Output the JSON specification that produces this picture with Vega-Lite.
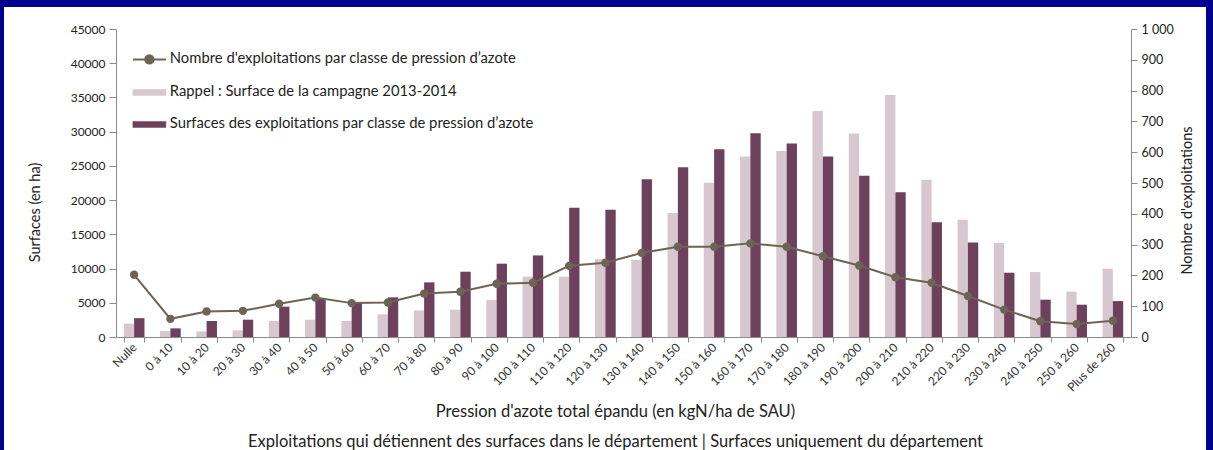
{
  "$schema": "https://vega.github.io/schema/vega-lite/v6.json",
  "autosize": {"type": "none"},
  "width": 1202,
  "height": 443,
  "padding": {"left": 4, "top": 7, "right": 7, "bottom": 0},
  "background": "#000091",
  "config": {
    "view": {"fill": "#ffffff", "stroke": null},
    "font": "Lato",
    "axis": {"grid": false, "domainColor": "#8a8a8a", "tickColor": "#8a8a8a", "labelColor": "#222222", "titleColor": "#222222", "titleFontWeight": "normal"}
  },
  "data": {
    "values": [
      {"classe": "Nulle", "rappel": 1950, "surface": 2750, "nombre": 202},
      {"classe": "0 à 10", "rappel": 880, "surface": 1260, "nombre": 59},
      {"classe": "10 à 20", "rappel": 820, "surface": 2340, "nombre": 83},
      {"classe": "20 à 30", "rappel": 970, "surface": 2530, "nombre": 85},
      {"classe": "30 à 40", "rappel": 2340, "surface": 4430, "nombre": 108},
      {"classe": "40 à 50", "rappel": 2530, "surface": 5600, "nombre": 128},
      {"classe": "50 à 60", "rappel": 2340, "surface": 4970, "nombre": 110},
      {"classe": "60 à 70", "rappel": 3300, "surface": 5790, "nombre": 112},
      {"classe": "70 à 80", "rappel": 3890, "surface": 7980, "nombre": 141},
      {"classe": "80 à 90", "rappel": 3990, "surface": 9540, "nombre": 147},
      {"classe": "90 à 100", "rappel": 5400, "surface": 10710, "nombre": 173},
      {"classe": "100 à 110", "rappel": 8810, "surface": 11920, "nombre": 176},
      {"classe": "110 à 120", "rappel": 8820, "surface": 18900, "nombre": 231},
      {"classe": "120 à 130", "rappel": 11380, "surface": 18585, "nombre": 241},
      {"classe": "130 à 140", "rappel": 11290, "surface": 23060, "nombre": 273},
      {"classe": "140 à 150", "rappel": 18100, "surface": 24810, "nombre": 293},
      {"classe": "150 à 160", "rappel": 22520, "surface": 27440, "nombre": 293},
      {"classe": "160 à 170", "rappel": 26370, "surface": 29770, "nombre": 304},
      {"classe": "170 à 180", "rappel": 27190, "surface": 28270, "nombre": 293},
      {"classe": "180 à 190", "rappel": 33030, "surface": 26370, "nombre": 262},
      {"classe": "190 à 200", "rappel": 29720, "surface": 23550, "nombre": 232},
      {"classe": "200 à 210", "rappel": 35350, "surface": 21160, "nombre": 194},
      {"classe": "210 à 220", "rappel": 22960, "surface": 16780, "nombre": 176},
      {"classe": "220 à 230", "rappel": 17120, "surface": 13820, "nombre": 133},
      {"classe": "230 à 240", "rappel": 13720, "surface": 9390, "nombre": 89},
      {"classe": "240 à 250", "rappel": 9490, "surface": 5450, "nombre": 51},
      {"classe": "250 à 260", "rappel": 6620, "surface": 4720, "nombre": 42},
      {"classe": "Plus de 260", "rappel": 9970, "surface": 5250, "nombre": 53}
    ]
  },
  "layer": [
    {
      "transform": [{"fold": ["rappel", "surface"], "as": ["serie", "valeur"]}],
      "mark": {"type": "bar"},
      "encoding": {
        "x": {
          "field": "classe", "type": "nominal", "sort": null,
          "scale": {"range": [112, 1127], "paddingInner": 0.43, "paddingOuter": 0.215},
          "axis": {
            "orient": "bottom", "offset": -113, "tickBand": "extent", "tickSize": 5,
            "labelAngle": -45, "labelAlign": "right", "labelBaseline": "middle", "labelPadding": 3,
            "labelFontSize": 12, "labelColor": "#333333",
            "title": ["Pression d'azote total épandu (en kgN/ha de SAU)", "Exploitations qui détiennent des surfaces dans le département | Surfaces uniquement du département"],
            "titleFontSize": 16.5, "titleX": 611, "titleY": 79, "titleAlign": "center", "titleBaseline": "alphabetic", "titleLineHeight": 30
          }
        },
        "xOffset": {"field": "serie", "type": "nominal", "sort": ["rappel", "surface"], "scale": {"paddingInner": 0}},
        "y": {
          "field": "valeur", "type": "quantitative",
          "scale": {"domain": [0, 45000], "range": [330, 22], "nice": false},
          "axis": {
            "orient": "left", "offset": -112, "values": [0, 5000, 10000, 15000, 20000, 25000, 30000, 35000, 40000, 45000],
            "format": "d", "tickSize": 7, "labelPadding": 4, "labelFontSize": 12,
            "title": "Surfaces (en ha)", "titleFontSize": 14.5, "titleX": -81, "titleY": 205, "titleAngle": -90, "titleAlign": "center", "titleBaseline": "middle"
          }
        },
        "color": {
          "field": "serie", "type": "nominal",
          "scale": {"domain": ["nombre", "rappel", "surface"], "range": ["#6e6455", "#d7c8d0", "#6d415b"]},
          "legend": {
            "orient": "none", "legendX": 138, "legendY": 45, "title": null, "padding": 0,
            "symbolSize": 400, "rowPadding": 16, "labelOffset": 13, "labelFontSize": 14.8, "labelColor": "#222222",
            "labelLimit": 600,
            "labelExpr": "datum.value === 'nombre' ? 'Nombre d\\'exploitations  par classe de pression d\u2019azote' : datum.value === 'rappel' ? 'Rappel : Surface de la campagne 2013-2014' : 'Surfaces des exploitations par classe de pression d\u2019azote'",
            "encode": {
              "symbols": {
                "update": {
                  "shape": {"signal": "datum.value === 'nombre' ? 'M-1.65,0H1.65M0.42,0A0.42,0.42,0,1,1,-0.42,0A0.42,0.42,0,1,1,0.42,0' : 'M-1.65,-0.3H1.65V0.3H-1.65Z'"},
                  "fill": {"signal": "scale('color', datum.value)"},
                  "stroke": {"signal": "scale('color', datum.value)"},
                  "strokeWidth": {"signal": "datum.value === 'nombre' ? 2 : 0.5"},
                  "opacity": {"value": 1},
                  "fillOpacity": {"value": 1},
                  "strokeOpacity": {"value": 1}
                }
              }
            }
          }
        }
      }
    },
    {
      "encoding": {
        "x": {"field": "classe", "type": "nominal", "sort": null},
        "y": {
          "field": "nombre", "type": "quantitative",
          "scale": {"domain": [0, 1000], "range": [330, 22], "nice": false},
          "axis": {
            "orient": "right", "offset": -75, "values": [0, 100, 200, 300, 400, 500, 600, 700, 800, 900, 1000],
            "labelExpr": "replace(format(datum.value, ','), ',', ' ')",
            "tickSize": 6, "labelPadding": 4, "labelFontSize": 12.5,
            "title": "Nombre d'exploitations", "titleFontSize": 14.5, "titleX": 56, "titleY": 193, "titleAngle": -90, "titleAlign": "center", "titleBaseline": "middle"
          }
        },
        "color": {"datum": "nombre"}
      },
      "layer": [
        {"mark": {"type": "line", "strokeWidth": 2}},
        {"mark": {"type": "point", "filled": true, "size": 70, "opacity": 1}}
      ]
    }
  ],
  "resolve": {"scale": {"y": "independent"}}
}
